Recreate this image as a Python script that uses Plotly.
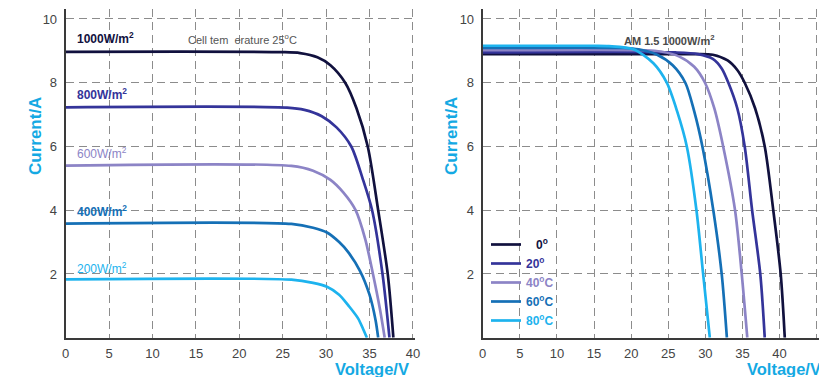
import plotly.graph_objects as go

# ---------------- data ----------------
# Left: irradiance series at cell temperature 25 C
irr_labels = ["1000W/m<sup>2</sup>", "800W/m<sup>2</sup>", "600W/m<sup>2</sup>",
              "400W/m<sup>2</sup>", "200W/m<sup>2</sup>"]
v_1000 = [0, 25, 27, 29, 30.5, 32.2, 33.5, 34.8, 36.0, 37.1, 37.75]
i_1000 = [8.97, 8.96, 8.93, 8.8, 8.55, 8.0, 7.2, 6.0, 4.0, 2.0, 0]
v_800 = [0, 25.5, 27.5, 29.5, 31.2, 32.9, 34.2, 35.3, 36.5, 37.3]
i_800 = [7.23, 7.22, 7.15, 6.95, 6.6, 6.0, 5.0, 4.0, 2.0, 0]
v_600 = [0, 26, 28.5, 30.5, 32.0, 33.4, 34.5, 35.4, 36.2, 36.75]
i_600 = [5.40, 5.39, 5.24, 4.95, 4.55, 4.0, 3.1, 2.0, 0.9, 0]
v_400 = [0, 26, 28.5, 30.1, 31.5, 32.5, 33.9, 35.0, 35.7, 36.0]
i_400 = [3.58, 3.57, 3.45, 3.3, 3.0, 2.7, 2.1, 1.35, 0.55, 0]
v_200 = [0, 26, 28.5, 30.1, 31.5, 32.6, 33.7, 34.3, 34.7]
i_200 = [1.83, 1.82, 1.72, 1.6, 1.35, 1.0, 0.6, 0.25, 0]

# Right: temperature series at AM 1.5 1000W/m2
temp_labels = ["\u00a0\u00a0\u00a00<sup>o</sup>", "20<sup>o</sup>", "40<sup>o</sup>C",
               "60<sup>o</sup>C", "80<sup>o</sup>C"]
v_t0 = [0, 28, 31, 33, 34.3, 35.3, 36.7, 38.0, 39.15, 40.15, 40.7]
i_t0 = [8.90, 8.90, 8.88, 8.7, 8.4, 8.0, 7.2, 6.0, 4.0, 2.0, 0]
v_t20 = [0, 26, 29.0, 31.0, 32.2, 33.1, 34.3, 35.3, 36.3, 37.4, 38.0]
i_t20 = [8.95, 8.95, 8.9, 8.75, 8.45, 8.0, 7.2, 6.0, 4.0, 2.0, 0]
v_t40 = [0, 22, 24, 26.5, 28.5, 29.95, 31.2, 32.4, 34.0, 34.9, 35.65]
i_t40 = [9.02, 9.02, 8.98, 8.82, 8.5, 8.0, 7.2, 6.0, 4.0, 2.0, 0]
v_t60 = [0, 19, 21, 23.5, 25.6, 27.3, 28.5, 29.6, 31.07, 32.2, 32.9]
i_t60 = [9.09, 9.09, 9.05, 8.88, 8.55, 8.0, 7.1, 6.0, 4.0, 2.0, 0]
v_t80 = [0, 15, 17, 20.3, 23.0, 24.8, 26.2, 27.5, 28.8, 29.7, 30.6]
i_t80 = [9.16, 9.16, 9.15, 9.05, 8.61, 8.0, 7.1, 6.0, 4.0, 2.0, 0]

x_ticks_left = [0, 5, 10, 15, 20, 25, 30, 35, 40]
x_ticks_right = [0, 5, 10, 15, 20, 25, 30, 35, 40, 45]
y_ticks = [2, 4, 6, 8, 10]

colors = ["#11113e", "#34349a", "#8c84c6", "#1570b6", "#1db3ee"]
cyan_title = "#14a9e3"

# ---------------- figure ----------------
W, H = 819, 377
FONT = "Liberation Sans, Arial, sans-serif"


def px(x):
    return x / W


def py(y):
    return 1 - y / H


fig = go.Figure()

left_series = [(v_1000, i_1000), (v_800, i_800), (v_600, i_600), (v_400, i_400), (v_200, i_200)]
for (v, i), c, name in zip(left_series, colors, irr_labels):
    fig.add_trace(go.Scatter(x=v, y=i, mode="lines", name=name, showlegend=False,
                             line=dict(color=c, width=2.7, shape="spline", smoothing=0.8),
                             xaxis="x", yaxis="y", hoverinfo="skip"))

right_series = [(v_t0, i_t0), (v_t20, i_t20), (v_t40, i_t40), (v_t60, i_t60), (v_t80, i_t80)]
for (v, i), c, name in zip(right_series, colors, temp_labels):
    fig.add_trace(go.Scatter(x=v, y=i, mode="lines",
                             name="<b><span style='color:%s'>%s</span></b>" % (c, name),
                             line=dict(color=c, width=2.7, shape="spline", smoothing=0.8),
                             xaxis="x2", yaxis="y2", hoverinfo="skip"))

grid = dict(showgrid=True, gridcolor="#8c8c8c", gridwidth=1.3, griddash="8px,5px",
            zeroline=False, showline=True, linecolor="#3a3a3a", linewidth=2,
            ticks="", automargin=False,
            tickfont=dict(family=FONT, size=13, color="#444"))

# geometry (pixels)
lx0, lxs = 65.7, 8.68     # left x origin, px per volt
rx0, rxs = 482.7, 7.422   # right x origin, px per volt
y0, ys = 337.7, 31.87     # y origin, px per amp

left_max = 40.2
right_max = (W - rx0) / rxs
y_max = 10.3

fig.update_layout(
    width=W, height=H,
    margin=dict(l=0, r=0, t=0, b=0, autoexpand=False),
    paper_bgcolor="white", plot_bgcolor="white",
    font=dict(family=FONT),
    xaxis=dict(domain=[px(lx0), px(lx0 + left_max * lxs)], range=[0, left_max],
               tickvals=x_ticks_left, anchor="y", ticklabelstandoff=3, **grid),
    yaxis=dict(domain=[py(y0), py(y0 - y_max * ys)], range=[0, y_max],
               tickvals=y_ticks, anchor="x", ticklabelstandoff=4, **grid),
    xaxis2=dict(domain=[px(rx0), 1.0], range=[0, right_max],
                tickvals=x_ticks_right, anchor="y2", ticklabelstandoff=3, **grid),
    yaxis2=dict(domain=[py(y0), py(y0 - y_max * ys)], range=[0, y_max],
                tickvals=y_ticks, anchor="x2", ticklabelstandoff=4, **grid),
    legend=dict(x=px(486), y=py(230), xanchor="left", yanchor="top",
                bgcolor="rgba(0,0,0,0)", font=dict(family=FONT, size=12),
                tracegroupgap=0, itemwidth=30),
    showlegend=True,
)

ann = []


def add_text(text, x, y, color, size, xanchor="left", angle=0):
    ann.append(dict(text=text, x=px(x), y=py(y), xref="paper", yref="paper",
                    xanchor=xanchor, yanchor="middle", showarrow=False, textangle=angle,
                    font=dict(family=FONT, size=size, color=color)))


# left panel labels
add_text("<b>" + irr_labels[0] + "</b>", 75, 38, colors[0], 12)
add_text("Cell tem  erature 25<sup>o</sup>C", 186, 39, "#555555", 11)
add_text("<b>" + irr_labels[1] + "</b>", 75, 94, colors[1], 12)
add_text(irr_labels[2], 75, 153, colors[2], 12)
add_text("<b>" + irr_labels[3] + "</b>", 75, 211, colors[3], 12)
add_text(irr_labels[4], 75, 268, colors[4], 12)

# right panel label
add_text("<b>AM 1.5 1000W/m<sup>2</sup></b>", 622, 40, "#4a4a4a", 11)

# axis titles
add_text("<b>Current/A</b>", 35, 136, cyan_title, 17, xanchor="center", angle=-90)
add_text("<b>Current/A</b>", 451, 136, cyan_title, 17, xanchor="center", angle=-90)
add_text("<b>Voltage/V</b>", 333, 368.5, cyan_title, 16.5)
add_text("<b>Voltage/V</b>", 745, 368.5, cyan_title, 16.5)

fig.update_layout(annotations=ann)

fig.write_html("out.html", config={"displayModeBar": False})

# remove the browser's default page margin so the figure sits at the window's top-left
with open("out.html", encoding="utf-8") as f:
    html = f.read()
html = html.replace("<head>", "<head><style>html,body{margin:0;padding:0;overflow:hidden;}</style>", 1)
with open("out.html", "w", encoding="utf-8") as f:
    f.write(html)
